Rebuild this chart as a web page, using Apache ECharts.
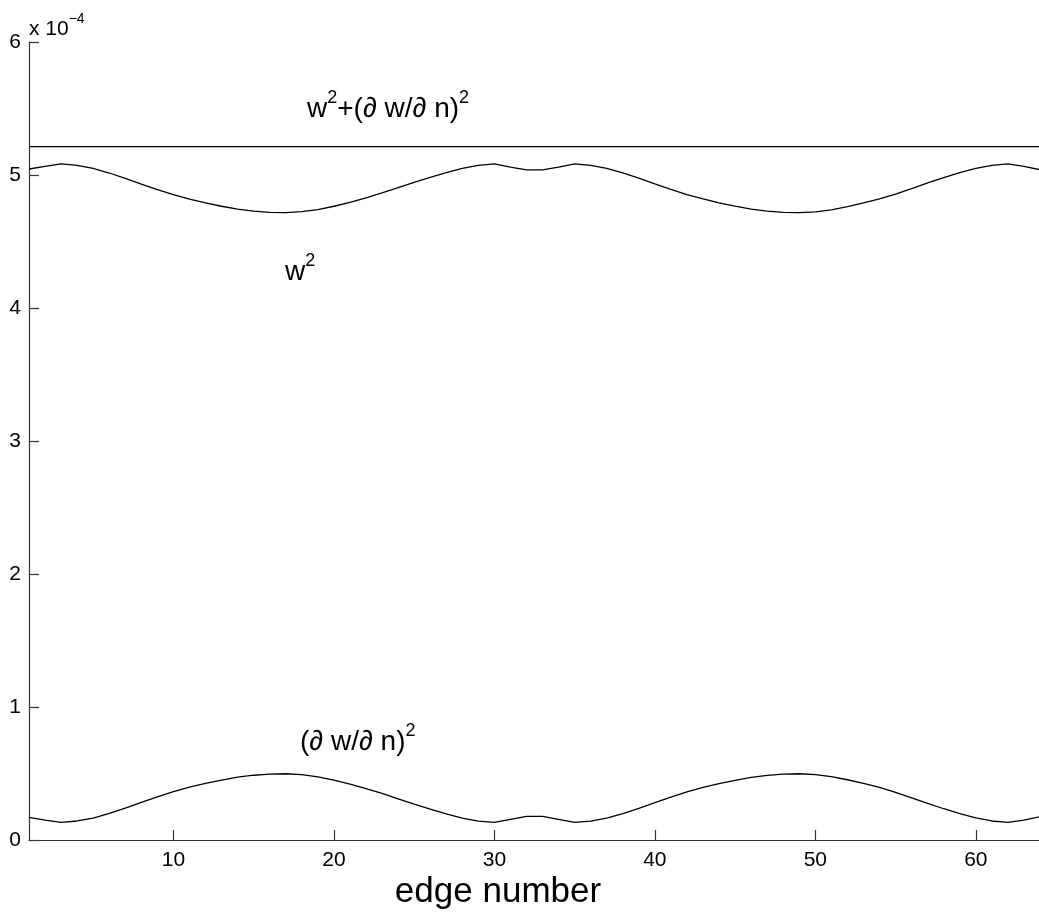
<!DOCTYPE html>
<html>
<head>
<meta charset="utf-8">
<script src="https://cdn.jsdelivr.net/npm/echarts@6/dist/echarts.min.js"></script>
<style>
html,body{margin:0;padding:0;background:#fff;}
#c{width:1039px;height:915px;}
</style>
</head>
<body>
<div id="c"></div>
<script>
// edge numbers
const edges = [1,2,3,4,5,6,7,8,9,10,11,12,13,14,15,16,17,18,19,20,21,22,23,24,25,26,27,28,29,30,31,32,
               33,34,35,36,37,38,39,40,41,42,43,44,45,46,47,48,49,50,51,52,53,54,55,56,57,58,59,60,61,62,63,64];
// values in units of 1e-4
const w2 = [5.045,5.065,5.083,5.072,5.050,5.015,4.975,4.932,4.890,4.852,4.818,4.790,4.765,4.743,4.728,4.719,
            4.717,4.724,4.740,4.765,4.795,4.828,4.865,4.905,4.945,4.982,5.018,5.050,5.073,5.083,5.060,5.038,
            5.038,5.060,5.083,5.073,5.050,5.016,4.977,4.934,4.892,4.853,4.820,4.791,4.766,4.744,4.729,4.719,
            4.717,4.723,4.738,4.762,4.790,4.820,4.857,4.898,4.940,4.980,5.017,5.049,5.072,5.083,5.065,5.040];
const dwdn2 = [0.170,0.150,0.132,0.143,0.165,0.200,0.240,0.283,0.325,0.363,0.397,0.425,0.450,0.472,0.487,0.496,
               0.498,0.491,0.475,0.450,0.420,0.387,0.350,0.310,0.270,0.233,0.197,0.165,0.142,0.132,0.155,0.177,
               0.177,0.155,0.132,0.142,0.165,0.199,0.238,0.281,0.323,0.362,0.395,0.424,0.449,0.471,0.486,0.496,
               0.498,0.492,0.477,0.453,0.425,0.395,0.358,0.317,0.275,0.235,0.198,0.166,0.143,0.132,0.150,0.175];
const total = [5.213,5.213,5.213,5.213,5.213,5.213,5.213,5.213,5.213,5.213,5.213,5.213,5.213,5.213,5.213,5.213,
               5.213,5.213,5.213,5.213,5.213,5.213,5.213,5.213,5.213,5.213,5.213,5.213,5.213,5.213,5.213,5.213,
               5.213,5.213,5.213,5.213,5.213,5.213,5.213,5.213,5.213,5.213,5.213,5.213,5.213,5.213,5.213,5.213,
               5.213,5.213,5.213,5.213,5.213,5.213,5.213,5.213,5.213,5.213,5.213,5.213,5.213,5.213,5.213,5.213];
const xTicks = [10,20,30,40,50,60];
const yTicks = [0,1,2,3,4,5,6];

const FONT = '"Liberation Sans", Arial, Helvetica, sans-serif';
const chart = echarts.init(document.getElementById('c'), null, {renderer:'canvas'});

function pairs(ys){ return edges.map((e,i)=>[e, ys[i]]); }
function lineSeries(name, ys){
  return {name, type:'line', data:pairs(ys), showSymbol:false, symbol:'none',
    lineStyle:{color:'#000', width:1.3}, animation:false, silent:true};
}

const supStyle = {fontSize:18, fontFamily:FONT, fill:'#000', lineHeight:12, verticalAlign:'top'};
const baseStyle = {fontSize:28, fontFamily:FONT, fill:'#000', lineHeight:34, verticalAlign:'bottom'};

chart.setOption({
  animation:false,
  backgroundColor:'#fff',
  grid:{left:29, top:42, width:1011, height:798, containLabel:false, outerBoundsMode:'none'},
  xAxis:{
    type:'value', min:1, max:64,
    axisLine:{show:true, onZero:false, lineStyle:{color:'#333', width:1.2}},
    axisTick:{show:true, inside:true, length:10, customValues:xTicks, lineStyle:{color:'#333', width:1.2}},
    axisLabel:{customValues:xTicks, fontSize:21, fontFamily:FONT, color:'#000', margin:10},
    splitLine:{show:false}
  },
  yAxis:{
    type:'value', min:0, max:6, interval:1,
    axisLine:{show:true, lineStyle:{color:'#333', width:1.2}},
    axisTick:{show:true, inside:true, length:10, lineStyle:{color:'#333', width:1.2}},
    axisLabel:{fontSize:21, fontFamily:FONT, color:'#000', margin:8,
      formatter:(v)=> yTicks.indexOf(v) >= 0 ? String(v) : ''},
    splitLine:{show:false}
  },
  series:[
    lineSeries('w^2+(dw/dn)^2', total),
    lineSeries('w^2', w2),
    lineSeries('(dw/dn)^2', dwdn2)
  ],
  graphic:[
    {type:'text', left:29, top:12, style:{text:'{b|x 10}{s|−4}', rich:{
      b:{fontSize:21, fontFamily:FONT, fill:'#000', lineHeight:28, verticalAlign:'bottom'},
      s:{fontSize:14, fontFamily:FONT, fill:'#000', lineHeight:12, verticalAlign:'top'}}}},
    {type:'text', left:307, top:89, style:{text:'{b|w}{s|2}{b|+(∂ w/∂ n)}{s|2}', rich:{b:baseStyle, s:supStyle}}},
    {type:'text', left:285, top:252, style:{text:'{b|w}{s|2}', rich:{b:baseStyle, s:supStyle}}},
    {type:'text', left:300, top:722, style:{text:'{b|(∂ w/∂ n)}{s|2}', rich:{b:baseStyle, s:supStyle}}},
    {type:'text', style:{x:498, y:892, text:'edge number', fontSize:35, fontFamily:FONT, fill:'#000',
      align:'center', verticalAlign:'middle'}}
  ]
});
</script>
</body>
</html>
